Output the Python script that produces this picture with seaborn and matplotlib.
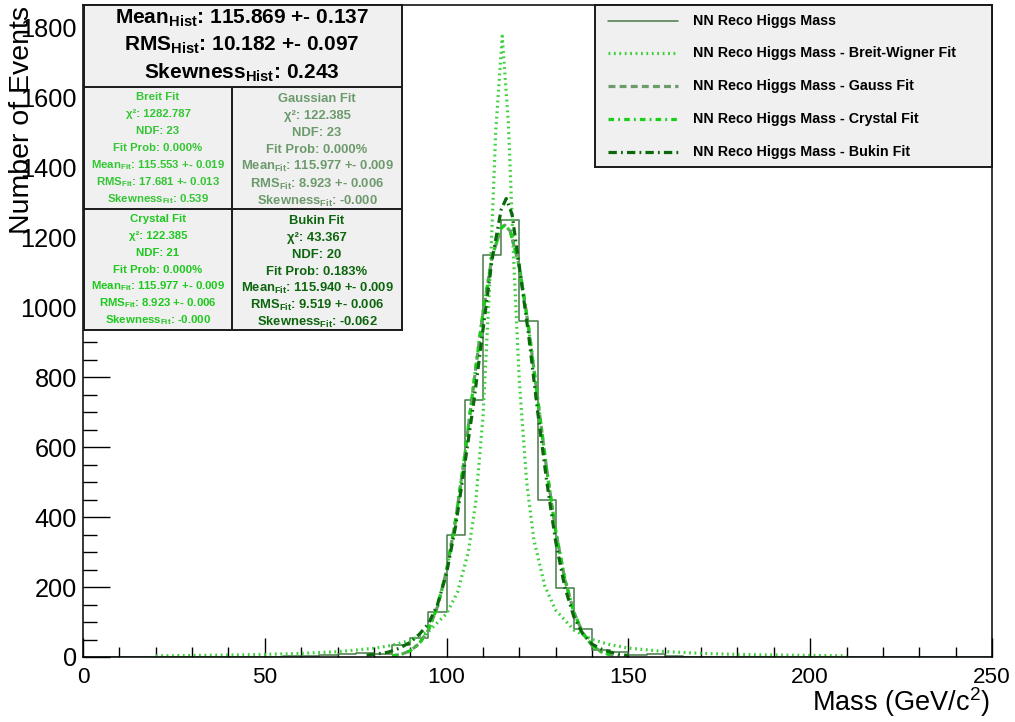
import matplotlib
matplotlib.use("Agg")
import matplotlib.pyplot as plt
import seaborn as sns
import numpy as np
import pandas as pd

# ---- data ------------------------------------------------------------------
# NN reco Higgs mass histogram, 5 GeV bins from 0 to 250
bin_edges = list(range(0, 255, 5))
hist_counts = [0, 0, 0, 0, 0, 0, 0, 0, 0, 0, 0,
               2, 4, 5, 10, 12, 10, 34, 54, 128, 350, 733, 1148, 1250, 960,
               449, 198, 79, 20, 15, 6, 8, 3,
               0, 0, 0, 0, 0, 0, 0, 0, 0, 0, 0, 0, 0, 0, 0, 0, 0]

# fitted curves
bw_mass = [20, 30, 40, 50, 60, 70, 80, 85, 90, 95, 100, 103, 106, 108, 110, 112,
           113.5, 115.3, 117, 118.5, 120, 122, 124, 127, 130, 135, 140, 145, 150,
           160, 170, 180, 190, 200, 210]
bw_events = [3.4, 4.3, 5.5, 7.3, 10.2, 15.1, 24.8, 33.4, 47.6, 72.8, 124, 185, 301,
             441, 685, 1098, 1499, 1774, 1524, 1122, 788, 501, 335, 203, 134, 77,
             50, 35, 25.6, 15.5, 10.4, 7.4, 5.6, 4.4, 3.5]

gauss_mass = [85, 87.5, 90, 92.5, 95, 97.5, 100, 102.5, 105, 107.5, 110, 112.5, 115,
              116, 117.5, 120, 122.5, 125, 127.5, 130, 132.5, 135, 137.5, 140,
              142.5, 145, 147.5]
gauss_events = [2.9, 7.5, 17.7, 38.4, 77.4, 143.8, 247, 393, 577, 784, 984, 1143,
                1226, 1234, 1217, 1116, 946, 742, 538, 360, 223, 128, 67.7, 33.1,
                15.0, 6.3, 2.4]

crystal_mass = [85, 87.5, 90, 92.5, 95, 97.5, 100, 102.5, 105, 107.5, 110, 112.5,
                115, 116, 117.5, 120, 122.5, 125, 127.5, 130, 132.5, 135, 137.5,
                140, 142.5, 145]
crystal_events = [2.9, 7.5, 17.7, 38.4, 77.4, 143.8, 247, 393, 577, 784, 984, 1143,
                  1226, 1234, 1217, 1116, 946, 742, 538, 360, 223, 128, 67.7, 33.1,
                  15.0, 6.3]

bukin_mass = [78, 81, 84, 87, 90, 92.5, 95, 97.5, 100, 102.5, 105, 107.5, 110, 112.5,
              115, 116.4, 118, 120, 122.5, 125, 127.5, 130, 132.5, 135, 137.5, 140,
              142.5, 145, 147.5, 150]
bukin_events = [5, 9, 14, 25, 42, 65, 95, 150, 240, 375, 550, 730, 935, 1135, 1278,
                1310, 1265, 1115, 925, 705, 505, 330, 200, 115, 65, 37, 23, 14, 8, 4]

# statistics box
hist_mean = "115.869 +- 0.137"
hist_rms = "10.182 +- 0.097"
hist_skew = "0.243"
fit_titles = ["Breit Fit", "Gaussian Fit", "Crystal Fit", "Bukin Fit"]
fit_chi2 = ["1282.787", "122.385", "122.385", "43.367"]
fit_ndf = ["23", "23", "21", "20"]
fit_prob = ["0.000%", "0.000%", "0.000%", "0.183%"]
fit_mean = ["115.553 +- 0.019", "115.977 +- 0.009", "115.977 +- 0.009", "115.940 +- 0.009"]
fit_rms = ["17.681 +- 0.013", "8.923 +- 0.006", "8.923 +- 0.006", "9.519 +- 0.006"]
fit_skew = ["0.539", "-0.000", "-0.000", "-0.062"]

legend_labels = ["NN Reco Higgs Mass",
                 "NN Reco Higgs Mass - Breit-Wigner Fit",
                 "NN Reco Higgs Mass - Gauss Fit",
                 "NN Reco Higgs Mass - Crystal Fit",
                 "NN Reco Higgs Mass - Bukin Fit"]

# ---- styles -----------------------------------------------------------------
hist_color = "#477a47"
bw_color = "#3dd13d"
gauss_color = "#6c9c6c"
crystal_color = "#17d017"
bukin_color = "#0b690b"
text_colors = ["#33c633", "#6c9a6c", "#1fc81f", "#0d650d"]

ls_bw = (0, (1.3, 2.6))
ls_gauss = (0, (5, 3))
ls_crystal = (0, (4, 3, 1.3, 3))
ls_bukin = (0, (6, 3, 1.3, 3))

sns.set_style("ticks")
plt.rcParams['font.family'] = ['Liberation Sans', 'DejaVu Sans']
plt.rcParams['mathtext.fontset'] = 'custom'
plt.rcParams['mathtext.rm'] = 'Liberation Sans'
plt.rcParams['mathtext.it'] = 'Liberation Sans:italic'
plt.rcParams['mathtext.bf'] = 'Liberation Sans:bold'
plt.rcParams['lines.scale_dashes'] = False
plt.rcParams['text.color'] = 'black'
plt.rcParams['xtick.color'] = 'black'
plt.rcParams['ytick.color'] = 'black'
plt.rcParams['axes.labelcolor'] = 'black'

W, H = 1015, 722
fig = plt.figure(figsize=(W / 100, H / 100), dpi=100)
fig.patch.set_facecolor("white")


def fig_box(x0, y0, x1, y1):
    # pixel box (top-left origin) -> figure fraction rect
    return [x0 / W, (H - y1) / H, (x1 - x0) / W, (y1 - y0) / H]


ax = fig.add_axes(fig_box(83, 5, 992, 657))

bin_centers = np.array(bin_edges[:-1]) + 2.5
sns.histplot(x=bin_centers, weights=hist_counts, bins=bin_edges, element="step",
             fill=False, color=hist_color, linewidth=1.1, ax=ax)
sns.lineplot(x=bw_mass, y=bw_events, color=bw_color, lw=2.3, linestyle=ls_bw, ax=ax)
sns.lineplot(x=gauss_mass, y=gauss_events, color=gauss_color, lw=2.3, linestyle=ls_gauss, ax=ax)
sns.lineplot(x=crystal_mass, y=crystal_events, color=crystal_color, lw=2.3, linestyle=ls_crystal, ax=ax)
sns.lineplot(x=bukin_mass, y=bukin_events, color=bukin_color, lw=2.3, linestyle=ls_bukin, ax=ax)

ax.set_xlim(0, 250)
ax.set_ylim(0, 1863)
ax.set_xlabel("")
ax.set_ylabel("")
ax.set_xticks(range(0, 251, 50))
ax.set_xticks(range(0, 251, 10), minor=True)
ax.set_yticks(range(0, 1801, 200))
ax.set_yticks(range(0, 1851, 50), minor=True)
ax.tick_params(axis='x', which='major', direction='in', length=13.7, width=1.0,
               pad=7, labelsize=16.2, top=False, colors='black')
ax.tick_params(axis='x', which='minor', direction='in', length=7, width=1.0, top=False, colors='black')
ax.tick_params(axis='y', which='major', direction='in', length=19.5, width=1.0,
               pad=4.5, labelsize=18.3, right=False, colors='black')
ax.tick_params(axis='y', which='minor', direction='in', length=9.8, width=1.0, right=False, colors='black')
for sp in ax.spines.values():
    sp.set_linewidth(1.1)
    sp.set_color("black")

fig.text(990 / W, (H - 711) / H, "Mass (GeV/c$^{2}$)", ha='right', va='baseline',
         fontsize=19.5, color='black')
fig.text(22 / W, (H - 6) / H, "Number of Events", rotation=90, ha='center', va='top',
         fontsize=20.5, color='black')

# ---- statistics box ----------------------------------------------------------
sbox = fig.add_axes(fig_box(84, 5, 402, 330))
sbox.set_xlim(84, 402)
sbox.set_ylim(330, 5)
sbox.set_facecolor("#f0f0f0")
sbox.set_xticks([])
sbox.set_yticks([])
for sp in sbox.spines.values():
    sp.set_linewidth(1.4)
    sp.set_color("#1a1a1a")
sbox.plot([84, 402], [87, 87], color="#1a1a1a", lw=1.4)
sbox.plot([84, 402], [209, 209], color="#1a1a1a", lw=1.4)
sbox.plot([232, 232], [87, 330], color="#1a1a1a", lw=1.4)

head_lines = [r"Mean$_{\mathbf{Hist}}$: " + hist_mean,
              r"RMS$_{\mathbf{Hist}}$: " + hist_rms,
              r"Skewness$_{\mathbf{Hist}}$: " + hist_skew]
for txt, yb in zip(head_lines, [23.2, 50.8, 78.5]):
    sbox.text(242, yb, txt, ha='center', va='baseline', fontsize=15, fontweight='bold', color='black')

cell_x = [158, 317, 158, 317]
cell_y0 = [100.0, 101.5, 222.4, 224.0]
cell_dy = [17.1, 17.2, 16.8, 16.95]
cell_fs = [8.2, 9.4, 8.2, 9.4]
for i in range(4):
    lines = [fit_titles[i],
             "\u03c7\u00b2: " + fit_chi2[i],
             "NDF: " + fit_ndf[i],
             "Fit Prob: " + fit_prob[i],
             r"Mean$_{\mathbf{Fit}}$: " + fit_mean[i],
             r"RMS$_{\mathbf{Fit}}$: " + fit_rms[i],
             r"Skewness$_{\mathbf{Fit}}$: " + fit_skew[i]]
    for j, txt in enumerate(lines):
        sbox.text(cell_x[i], cell_y0[i] + j * cell_dy[i], txt, ha='center', va='baseline',
                  fontsize=cell_fs[i], fontweight='bold', color=text_colors[i])

# ---- legend -------------------------------------------------------------------
lbox = fig.add_axes(fig_box(595, 5, 992, 167))
lbox.set_xlim(595, 992)
lbox.set_ylim(167, 5)
lbox.set_facecolor("#f0f0f0")
lbox.set_xticks([])
lbox.set_yticks([])
for sp in lbox.spines.values():
    sp.set_linewidth(1.4)
    sp.set_color("#1a1a1a")

leg_styles = [(hist_color, '-', 1.1), (bw_color, ls_bw, 2.3), (gauss_color, ls_gauss, 2.3),
              (crystal_color, ls_crystal, 2.3), (bukin_color, ls_bukin, 2.3)]
leg_y = [21, 53, 86, 119, 152]
for (c, ls, lw), lab, yy in zip(leg_styles, legend_labels, leg_y):
    lbox.plot([608, 678], [yy, yy], color=c, linestyle=ls, lw=lw)
    lbox.text(693, yy, lab, ha='left', va='center', fontsize=10.3, fontweight='bold', color='black')

fig.savefig("out.png", dpi=100)
